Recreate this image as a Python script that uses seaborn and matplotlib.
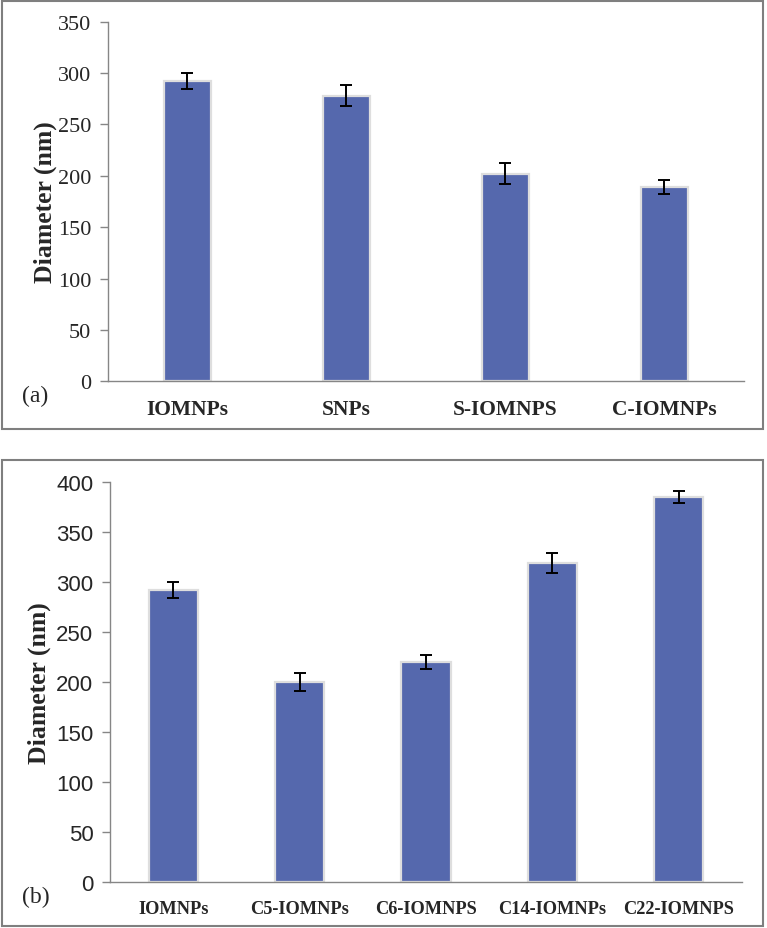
import numpy as np
import pandas as pd
import matplotlib
matplotlib.use("Agg")
import matplotlib.pyplot as plt
from matplotlib.patches import Rectangle
import seaborn as sns

# panel (a)
labels_a = ["IOMNPs", "SNPs", "S-IOMNPS", "C-IOMNPs"]
diam_a = [292, 278, 202, 189]
err_a = [8, 10, 10, 7]

# panel (b)
labels_b = ["IOMNPs", "C5-IOMNPs", "C6-IOMNPS", "C14-IOMNPs", "C22-IOMNPS"]
diam_b = [292, 200, 220, 319, 385]
err_b = [8, 9, 7, 10, 6]

BAR = "#5568ad"
AXC = "#868686"
SERIF = ["Liberation Serif", "DejaVu Serif"]
NARROW = ["Liberation Sans Narrow", "Liberation Sans", "DejaVu Sans"]

sns.set_style("white")
plt.rcParams["font.family"] = SERIF


def draw_panel(ax, labels, values, errs, ymax, ystep, width, tick_font, tick_size, xlab_size, tag, tag_xy, ypad):
    df = pd.DataFrame({"sample": labels, "diameter": values})
    sns.barplot(data=df, x="sample", y="diameter", color=BAR, width=width,
                edgecolor="#dedede", linewidth=1.6, saturation=1, ax=ax)
    ax.errorbar(np.arange(len(labels)), values, yerr=errs, fmt="none",
                ecolor="black", elinewidth=1.4, capsize=4.5, capthick=1.4)
    n = len(labels)
    ax.set_xlim(-0.5, n - 0.5)
    ax.set_ylim(0, ymax)
    ax.set_yticks(np.arange(0, ymax + 1, ystep))
    for t in ax.get_yticklabels():
        t.set_family(tick_font)
        t.set_fontsize(tick_size)
    ax.set_xticks(np.arange(-0.5, n, 1.0), labels=[])
    ax.set_xticks(np.arange(n), minor=True, labels=labels)
    for t in ax.get_xticklabels(minor=True):
        t.set_fontweight("bold")
        t.set_fontsize(xlab_size)
    ax.tick_params(axis="x", which="major", length=6, width=1, color=AXC, direction="out")
    ax.tick_params(axis="x", which="minor", length=0, pad=13)
    ax.tick_params(axis="y", length=6, width=1, color=AXC, direction="out", pad=6, left=True)
    for s in ["top", "right"]:
        ax.spines[s].set_visible(False)
    for s in ["left", "bottom"]:
        ax.spines[s].set_color(AXC)
        ax.spines[s].set_linewidth(1)
    ax.set_xlabel("")
    ax.set_ylabel("Diameter (nm)", fontsize=18.5, fontweight="bold", labelpad=ypad)
    ax.text(tag_xy[0], tag_xy[1], tag, transform=ax.figure.transFigure,
            fontsize=17, ha="left", va="center")


fig = plt.figure(figsize=(7.67, 9.29), dpi=100)

ax_a = fig.add_axes([0.1408, 0.5885, 0.8292, 0.3871])
draw_panel(ax_a, labels_a, diam_a, err_a, 350, 50, 0.30, SERIF, 16, 15.5, "(a)", (22 / 767, 1 - 396 / 929), 1)

ax_b = fig.add_axes([0.1434, 0.0495, 0.824, 0.4311])
draw_panel(ax_b, labels_b, diam_b, err_b, 400, 50, 0.39, NARROW, 16, 13.2, "(b)", (22 / 767, 1 - 897 / 929), 4)

# panel frames
W, H = 767, 929
for x0, y0, x1, y1 in [(2, 2, 763, 430), (2, 461, 763, 927)]:
    fig.patches.append(Rectangle((x0 / W, 1 - y1 / H), (x1 - x0) / W, (y1 - y0) / H,
                                 transform=fig.transFigure, fill=False,
                                 edgecolor="#7f7f7f", linewidth=1.5))

fig.savefig("out.png", dpi=100)
